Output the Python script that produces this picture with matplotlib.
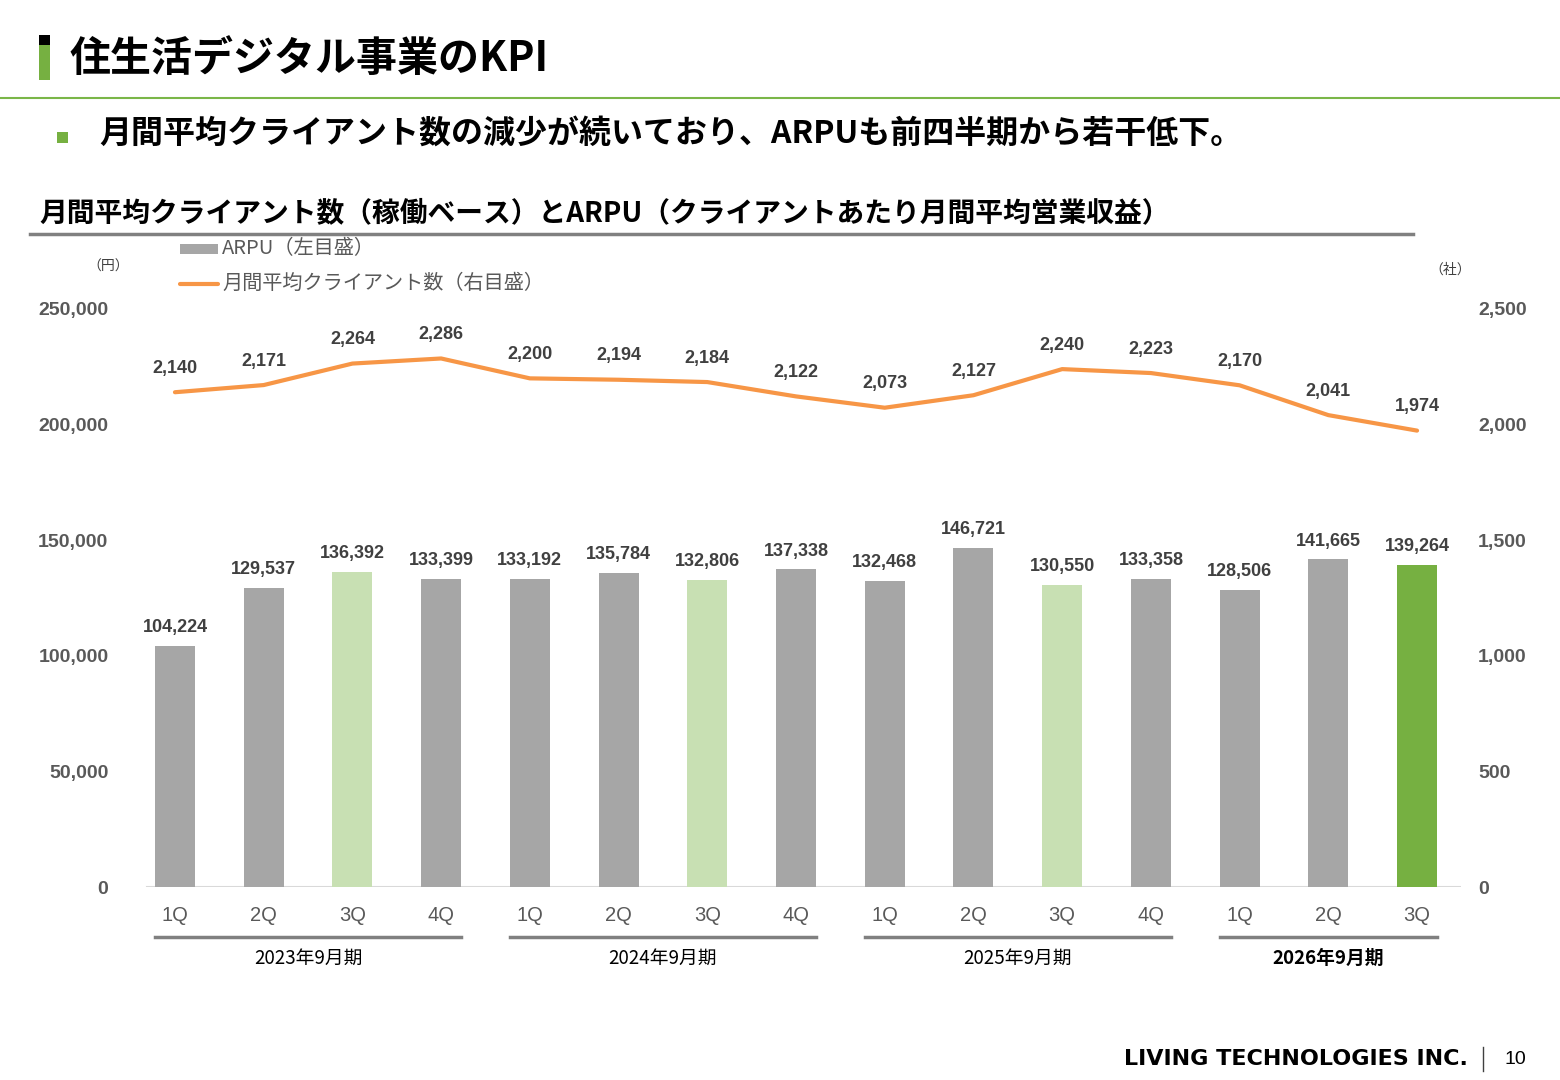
import matplotlib
matplotlib.use("Agg")
import matplotlib.pyplot as plt
from matplotlib.transforms import blended_transform_factory
from matplotlib.patches import Rectangle
from matplotlib.lines import Line2D

# ---- data ----
quarters = ["1Q", "2Q", "3Q", "4Q", "1Q", "2Q", "3Q", "4Q", "1Q", "2Q", "3Q", "4Q", "1Q", "2Q", "3Q"]
fiscal_years = ["2023年9月期", "2024年9月期", "2025年9月期", "2026年9月期"]
fy_quarter_counts = [4, 4, 4, 3]
arpu = [104224, 129537, 136392, 133399, 133192, 135784, 132806, 137338,
        132468, 146721, 130550, 133358, 128506, 141665, 139264]
clients = [2140, 2171, 2264, 2286, 2200, 2194, 2184, 2122,
           2073, 2127, 2240, 2223, 2170, 2041, 1974]
left_ticks = [0, 50000, 100000, 150000, 200000, 250000]
right_ticks = [0, 500, 1000, 1500, 2000, 2500]

W, H = 1560, 1080
JP = ["Noto Sans CJK JP", "DejaVu Sans"]
NUM = ["Liberation Sans", "Noto Sans CJK JP", "DejaVu Sans"]
plt.rcParams["font.family"] = JP

GRAY = "#A6A6A6"
LGREEN = "#C8E0B3"
GREEN = "#76B041"
ORANGE = "#F79646"
TXT = "#404040"
TICK = "#595959"

fig = plt.figure(figsize=(W / 100, H / 100), dpi=100)

def fx(x):
    return x / W

def fy(y):
    return 1 - y / H

# axes placement
ax_l, ax_r, ax_t, ax_b = 130.6, 1461.4, 309, 887
ax = fig.add_axes([fx(ax_l), fy(ax_b), fx(ax_r - ax_l), (ax_b - ax_t) / H])
ax2 = ax.twinx()

n = len(arpu)
xs = list(range(n))
colors = []
for i in range(n):
    if i == n - 1:
        colors.append(GREEN)
    elif quarters[i] == "3Q":
        colors.append(LGREEN)
    else:
        colors.append(GRAY)

ax.bar(xs, arpu, width=0.45, color=colors, zorder=2)
ax.set_xlim(-0.5, n - 0.5)
ax.set_ylim(0, 250000)
ax2.set_ylim(0, 2500)

for i, v in enumerate(arpu):
    ax.annotate(f"{v:,}", (i, v), xytext=(0, 7), textcoords="offset points",
                ha="center", va="bottom", fontsize=13, fontweight="bold",
                color=TXT, family=NUM)

ax2.plot(xs, clients, color=ORANGE, lw=3, zorder=3, solid_capstyle="round")
for i, v in enumerate(clients):
    ax2.annotate(f"{v:,}", (i, v), xytext=(0, 11), textcoords="offset points",
                 ha="center", va="bottom", fontsize=13, fontweight="bold",
                 color=TXT, family=NUM)

for a in (ax, ax2):
    for s in a.spines.values():
        s.set_visible(False)
    a.tick_params(length=0)
    a.set_zorder(1)
ax2.set_zorder(2)
ax.patch.set_visible(False)

ax.set_yticks(left_ticks)
ax.set_yticklabels([f"{t:,}" for t in left_ticks], fontsize=14, fontweight="bold",
                   color=TICK, family=NUM)
ax.tick_params(axis="y", pad=16)
ax2.set_yticks(right_ticks)
ax2.set_yticklabels([f"{t:,}" for t in right_ticks], fontsize=14, fontweight="bold",
                    color=TICK, family=NUM)
ax2.tick_params(axis="y", pad=12)

ax.set_xticks(xs)
ax.set_xticklabels(quarters, fontsize=14.5, color=TICK, family=NUM)
ax.tick_params(axis="x", pad=14)

# baseline
ax.axhline(0, color="#D9D9D9", lw=1.5, xmin=0.012, xmax=1.0, zorder=1)

# fiscal year groups
tr = blended_transform_factory(ax.transData, fig.transFigure)
start = 0
for k, (fyl, cnt) in enumerate(zip(fiscal_years, fy_quarter_counts)):
    x0 = start - 0.225
    x1 = start + cnt - 1 + 0.225
    fig.add_artist(Line2D([x0, x1], [fy(937), fy(937)], transform=tr,
                          color="#808080", lw=2.5))
    fig.text((x0 + x1) / 2, fy(958), fyl, transform=tr, ha="center", va="center",
             fontsize=13.5, color="black",
             fontweight="bold" if k == len(fiscal_years) - 1 else "normal")
    start += cnt

# unit labels
fig.text(fx(108), fy(267), "（円）", ha="center", va="center", fontsize=10, color=TXT)
fig.text(fx(1450), fy(270), "（社）", ha="center", va="center", fontsize=10, color=TXT)

# legend
fig.add_artist(Rectangle((fx(180), fy(254)), fx(38), 10 / H, transform=fig.transFigure,
                         color=GRAY, lw=0))
fig.text(fx(222), fy(249), "ARPU（左目盛）", ha="left", va="center", fontsize=14.5, color=TICK)
fig.add_artist(Line2D([fx(180), fx(218)], [fy(284), fy(284)], transform=fig.transFigure,
                      color=ORANGE, lw=3, solid_capstyle="round"))
fig.text(fx(222), fy(283), "月間平均クライアント数（右目盛）", ha="left", va="center",
         fontsize=14.5, color=TICK)

# header
fig.add_artist(Rectangle((fx(39), fy(80)), fx(11), 35 / H, transform=fig.transFigure,
                         color=GREEN, lw=0))
fig.add_artist(Rectangle((fx(39), fy(45)), fx(11), 10 / H, transform=fig.transFigure,
                         color="black", lw=0))
fig.text(fx(70), fy(59), "住生活デジタル事業のKPI", ha="left", va="center",
         fontsize=29.5, fontweight="bold", color="black")
fig.add_artist(Line2D([0, 1], [fy(97.5), fy(97.5)], transform=fig.transFigure,
                      color="#7AB648", lw=1.5))
fig.add_artist(Rectangle((fx(57), fy(143)), fx(11), 11 / H, transform=fig.transFigure,
                         color=GREEN, lw=0))
fig.text(fx(99), fy(134), "月間平均クライアント数の減少が続いており、ARPUも前四半期から若干低下。",
         ha="left", va="center", fontsize=23, fontweight="bold", color="black")

fig.text(fx(39), fy(213), "月間平均クライアント数（稼働ベース）とARPU（クライアントあたり月間平均営業収益）",
         ha="left", va="center", fontsize=20, fontweight="bold", color="black")
fig.add_artist(Line2D([fx(30), fx(1413)], [fy(234), fy(234)], transform=fig.transFigure,
                      color="#808080", lw=2.5))

# footer
fig.text(fx(1468), fy(1059), "LIVING TECHNOLOGIES INC.", ha="right", va="center",
         fontsize=16, fontweight="heavy", color="black", family=["DejaVu Sans"])
fig.add_artist(Line2D([fx(1483), fx(1483)], [fy(1047), fy(1071)], transform=fig.transFigure,
                      color="#404040", lw=1))
fig.text(fx(1515), fy(1059), "10", ha="center", va="center", fontsize=14,
         color="black", family=NUM)

fig.savefig("out.png", dpi=100, facecolor="white")
